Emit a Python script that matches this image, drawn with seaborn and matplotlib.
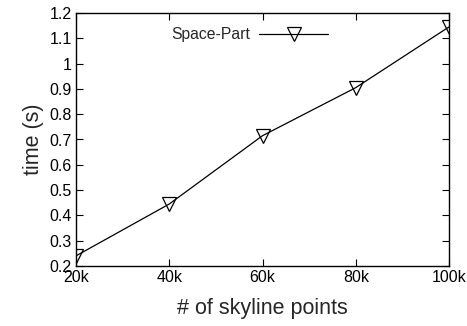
import matplotlib
matplotlib.use("Agg")
import matplotlib.pyplot as plt
import seaborn as sns
import pandas as pd

categories = [20, 40, 60, 80, 100]
tick_labels = ["20k", "40k", "60k", "80k", "100k"]
space_part = [0.24, 0.445, 0.715, 0.905, 1.145]

sns.set_theme(style="ticks")
plt.rcParams['font.family'] = ['Liberation Sans', 'DejaVu Sans']

df = pd.DataFrame({"x": categories, "time": space_part, "series": "Space-Part"})

fig = plt.figure(figsize=(4.67, 3.26), dpi=100)
ax = fig.add_axes([76/467, 1 - 266/326, (449-76)/467, (266-13)/326])
sns.lineplot(data=df, x="x", y="time", hue="series", palette=["black"],
             marker="v", markersize=10, markerfacecolor="none",
             markeredgecolor="black", markeredgewidth=0.9, linewidth=0.9, ax=ax)

ax.set_xlim(20, 100)
ax.set_ylim(0.2, 1.2)
ax.set_xticks(categories)
ax.set_xticklabels(tick_labels)
ax.set_yticks([0.2, 0.3, 0.4, 0.5, 0.6, 0.7, 0.8, 0.9, 1.0, 1.1, 1.2])
ax.set_yticklabels(["0.2", "0.3", "0.4", "0.5", "0.6", "0.7", "0.8", "0.9", "1", "1.1", "1.2"])
ax.tick_params(direction="in", top=True, right=True, length=5, width=0.8,
               labelsize=11.5, colors="black", pad=3)
for s in ax.spines.values():
    s.set_linewidth(1.0)
    s.set_color("black")
ax.set_xlabel("# of skyline points", fontsize=15.5, labelpad=9)
ax.set_ylabel("time (s)", fontsize=15.5, labelpad=4)

leg = ax.legend(loc="upper center", bbox_to_anchor=(0.466, 1.0), frameon=False,
                fontsize=11.3, handlelength=4.4, markerfirst=False, handletextpad=0.6)

fig.savefig("out.png", dpi=100)
